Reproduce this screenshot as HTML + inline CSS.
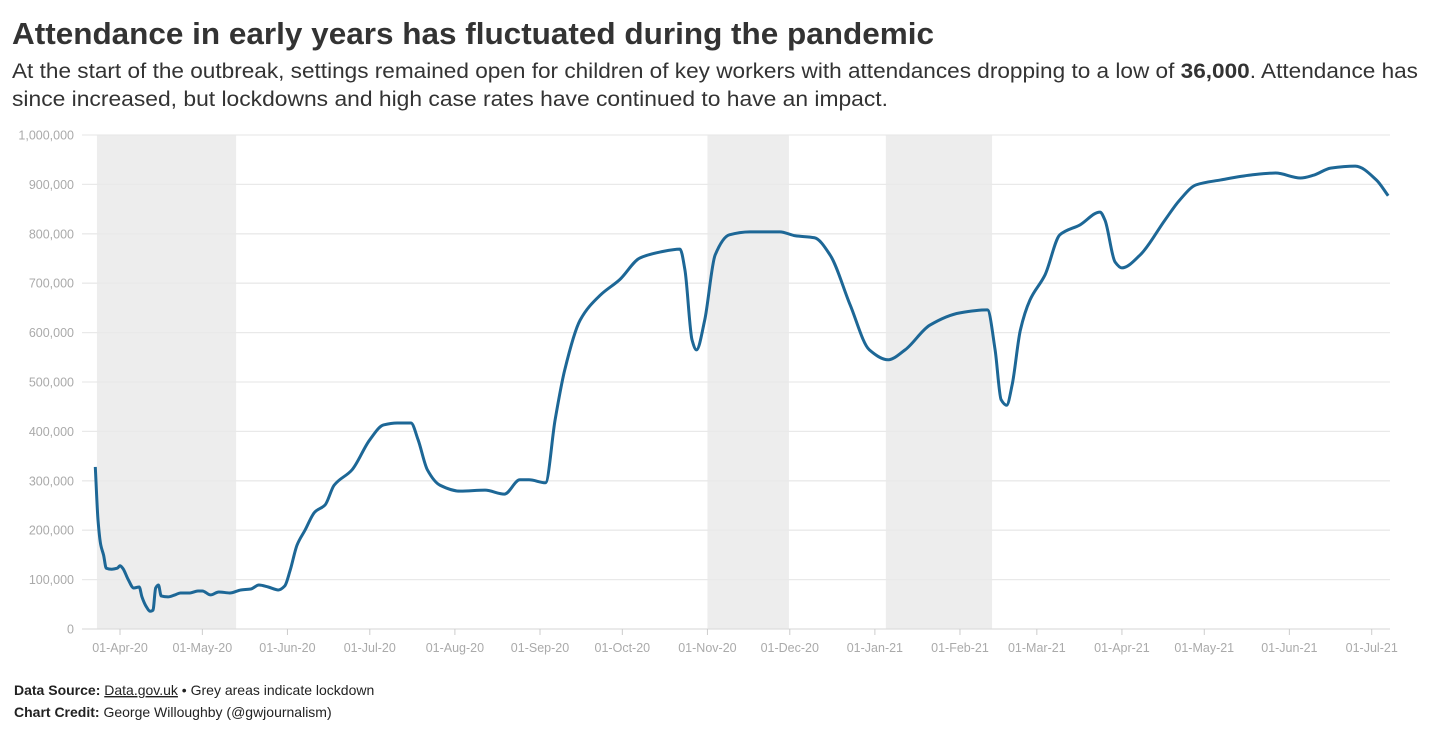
<!DOCTYPE html>
<html><head><meta charset="utf-8"><style>
body{margin:0;background:#fff;}
svg{display:block;font-family:"Liberation Sans",sans-serif;}
</style></head><body>
<svg id="c" width="1430" height="736">
<text x="12" y="44" font-size="31" font-weight="bold" fill="#333" textLength="922" lengthAdjust="spacingAndGlyphs">Attendance in early years has fluctuated during the pandemic</text>
<text x="12" y="78" font-size="21" fill="#333" textLength="1406" lengthAdjust="spacingAndGlyphs">At the start of the outbreak, settings remained open for children of key workers with attendances dropping to a low of <tspan font-weight="bold">36,000</tspan>. Attendance has</text>
<text x="12" y="106" font-size="21" fill="#333" textLength="876" lengthAdjust="spacingAndGlyphs">since increased, but lockdowns and high case rates have continued to have an impact.</text>
<g id="bands"></g><g id="grid"></g><g id="xaxis"></g><g id="plot"></g>
<text x="14" y="695" font-size="14" fill="#222"><tspan font-weight="bold">Data Source:</tspan> <tspan text-decoration="underline">Data.gov.uk</tspan> • Grey areas indicate lockdown</text>
<text x="14" y="717" font-size="14" fill="#222"><tspan font-weight="bold">Chart Credit:</tspan> George Willoughby (@gwjournalism)</text>
</svg>
<script>
// days since 01-Apr-2020
const days=[-9,-8,-7,-6,-5,-3,-1,0,1,3,5,7,8,9.5,11,12,13,14,15,17.5,20,22,25.5,28.4,30,33,36,40,44,47.7,50.6,54,57.7,60,62,64.5,67.4,71,74.7,78,84.5,91,96,101,106,108.6,112,116.6,124,133,140,145.7,149,155,158.5,162,167.6,175,182,189.4,196.7,204,205.8,208.4,210,213,216.8,222,229.5,240.4,246,253,258.7,266,273,279.8,286,295,306,316,318.8,321,323,325,328,331.5,337,342.4,349.7,357,358.8,362.5,365,371.6,380.7,386,392,401,412,421,430,435,441,450,457.7,462];
const values=[328,220,170,150,123,121,123,128,123,100,83,85,65,46,36,38,83,89,67,65,69,73,73,77,77,69,75,73,79,81,89,85,79,87,119,170,200,237,251,291,322,383,413,417,417,383,322,291,279,281,273,302,302,296,423,524,625,676,707,751,763,769,727,585,565,625,757,798,804,804,796,792,757,656,565,545,565,615,640,646,565,464,453,494,605,666,717,798,818,844,828,743,731,757,828,868,899,909,919,923,913,919,933,937,909,877];
const lockStart=[-8.4,214,279];
const lockEnd=[42.3,243.7,317.7];
const yTicks=[0,100,200,300,400,500,600,700,800,900,1000];
const xTickDays=[0,30,61,91,122,153,183,214,244,275,306,334,365,395,426,456];
const xTickLabels=["01-Apr-20","01-May-20","01-Jun-20","01-Jul-20","01-Aug-20","01-Sep-20","01-Oct-20","01-Nov-20","01-Dec-20","01-Jan-21","01-Feb-21","01-Mar-21","01-Apr-21","01-May-21","01-Jun-21","01-Jul-21"];
const NS="http://www.w3.org/2000/svg";
const X=d=>120+d*2.745, Y=v=>629-v*0.494;
function mk(t,a,p){const e=document.createElementNS(NS,t);for(const k in a)e.setAttribute(k,a[k]);p.appendChild(e);return e;}
const bands=document.getElementById('bands'),grid=document.getElementById('grid'),xa=document.getElementById('xaxis'),plot=document.getElementById('plot');
lockStart.forEach((s,i)=>{const r=mk('rect',{x:X(s),y:Y(1000),width:X(lockEnd[i])-X(s),height:Y(0)-Y(1000),fill:'#ededed'},bands);

});
yTicks.forEach(v=>{const l=mk('line',{x1:82,x2:1390,y1:Y(v),y2:Y(v),stroke:v==0?'#ddd':'#e9e9e9','stroke-width':1.3},grid);


const t=mk('text',{x:74,y:Y(v)+4.5,'font-size':12.5,fill:'#aaa','text-anchor':'end'},grid);t.textContent=(v*1000).toLocaleString('en-US');

});
xTickDays.forEach((d,i)=>{const l=mk('line',{x1:X(d),x2:X(d),y1:629,y2:635,stroke:'#ccc','stroke-width':1},xa);


const t=mk('text',{x:X(d),y:652,'font-size':12.5,fill:'#aaa','text-anchor':'middle'},xa);t.textContent=xTickLabels[i];

});
// monotone cubic
const px=days.map(X),py=values.map(Y),n=px.length;const dx=[],s=[];
for(let i=0;i<n-1;i++){dx[i]=px[i+1]-px[i];s[i]=(py[i+1]-py[i])/dx[i];}
const m=[s[0]];for(let i=1;i<n-1;i++){m[i]=s[i-1]*s[i]<=0?0:3*(dx[i-1]+dx[i])/((2*dx[i]+dx[i-1])/s[i-1]+(dx[i]+2*dx[i-1])/s[i]);}m[n-1]=s[n-2];
let d='M'+px[0]+','+py[0];for(let i=0;i<n-1;i++){const h=dx[i]/3;d+=`C${px[i]+h},${py[i]+m[i]*h} ${px[i+1]-h},${py[i+1]-m[i+1]*h} ${px[i+1]},${py[i+1]}`;}
const p=mk('path',{d:d,fill:'none',stroke:'#1d6796','stroke-width':3,'stroke-linejoin':'round'},plot);


</script>
</body></html>
